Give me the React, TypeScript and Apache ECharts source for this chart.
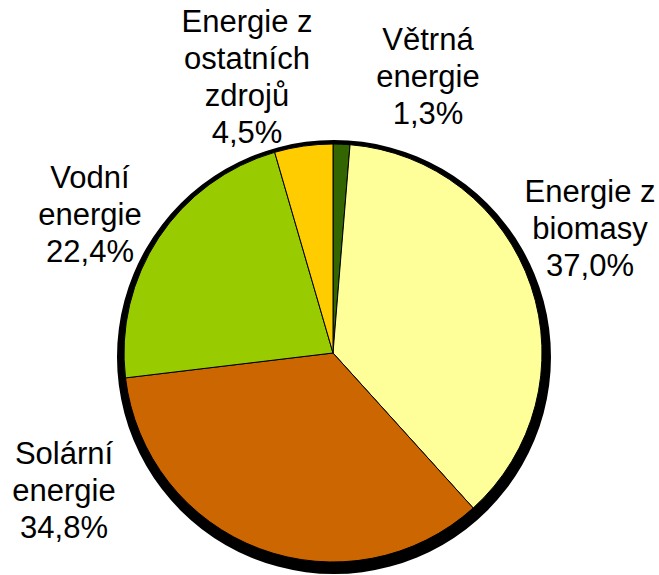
import React, { useEffect, useRef } from "react";
import * as echarts from "echarts";

const categories = [
  "Větrná\nenergie",
  "Energie z\nbiomasy",
  "Solární\nenergie",
  "Vodní\nenergie",
  "Energie z\nostatních\nzdrojů",
];
const values = [1.3, 37.0, 34.8, 22.4, 4.5];
const colors = ["#336600", "#FFFF99", "#CC6600", "#99CC00", "#FFCC00"];

const labelPos: [number, number][] = [
  [428, 76],
  [590, 228],
  [64, 490],
  [90, 214],
  [247, 77],
];

export default function App() {
  const ref = useRef<HTMLDivElement>(null);
  useEffect(() => {
    if (!ref.current) return;
    const chart = echarts.init(ref.current, null, { renderer: "svg" });
    chart.setOption({
      animation: false,
      backgroundColor: "#ffffff",
      series: [
        {
          type: "pie",
          silent: true,
          center: [334, 357],
          radius: 217,
          label: { show: false },
          labelLine: { show: false },
          itemStyle: { color: "#000000", borderWidth: 0 },
          data: [{ value: 1, name: "shadow" }],
          z: 1,
        },
        {
          type: "pie",
          center: [333, 353],
          radius: 209,
          startAngle: 90,
          clockwise: true,
          z: 2,
          itemStyle: { borderColor: "#000000", borderWidth: 1 },
          data: categories.map((c, i) => ({
            name: c,
            value: values[i],
            itemStyle: { color: colors[i] },
          })),
          label: {
            show: true,
            position: "inside",
            color: "#000000",
            fontFamily: "Liberation Sans, Arial, sans-serif",
            fontSize: 31,
            lineHeight: 37,
            align: "center",
            overflow: "none",
            formatter: (p: any) =>
              p.name + "\n" + Number(p.value).toFixed(1).replace(".", ",") + "%",
          },
          labelLine: { show: false },
          labelLayout: (params: any) => {
            const pos = labelPos[params.dataIndex];
            return {
              x: pos[0],
              y: pos[1],
              align: "center",
              verticalAlign: "middle",
            };
          },
        },
      ],
    });
    return () => chart.dispose();
  }, []);
  return (
    <div
      ref={ref}
      style={{ position: "fixed", left: 0, top: 0, width: 659, height: 575 }}
    />
  );
}
